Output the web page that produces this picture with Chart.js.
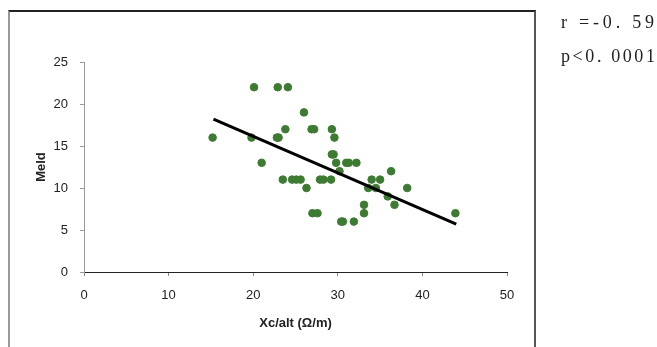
<!DOCTYPE html>
<html>
<head>
<meta charset="utf-8">
<script src="https://cdn.jsdelivr.net/npm/chart.js@4/dist/chart.umd.min.js"></script>
<style>
  html, body { margin: 0; padding: 0; background: #fff; }
  #wrap { position: relative; width: 657px; height: 347px; overflow: hidden; }
  #frame { position: absolute; left: 8px; top: 10px; width: 528px; height: 400px; box-sizing: border-box;
           border-left: 2px solid #999; border-top: 2px solid #222; border-right: 2px solid #555; }
  canvas { position: absolute; left: 0; top: 0; }
  .stat { position: absolute; left: 561px; font-family: "Liberation Serif", "DejaVu Serif", serif;
          font-size: 18px; line-height: 18px; color: #222; white-space: pre; }
</style>
</head>
<body>
<div id="wrap">
  <div id="frame"></div>
  <canvas id="scatterChart" width="657" height="347"></canvas>
  <div class="stat" style="top: 13px; letter-spacing: 3.8px;">r =-0. 59</div>
  <div class="stat" style="top: 47px; letter-spacing: 2.6px;">p&lt;0. 0001</div>
</div>
<script>
// Scatter of Meld vs Xc/alt with a fitted trend line

// ── Data ──────────────────────────────────────────────────
const xcAlt = [15.2, 20.1, 22.9, 24.1, 26.0, 23.8, 26.9, 27.2, 29.3, 19.8,
               22.8, 23.0, 29.6, 29.3, 29.5, 21.0, 29.8, 31.0, 31.3, 32.2,
               30.2, 36.3, 23.5, 24.6, 25.1, 25.6, 27.9, 28.3, 29.2, 34.0,
               35.0, 26.3, 33.6, 34.5, 38.2, 35.9, 33.1, 36.7, 27.0, 27.6,
               33.1, 43.9, 30.4, 30.6, 31.9];
const meld  = [16, 22, 22, 22, 19, 17, 17, 17, 17, 16,
               16, 16, 16, 14, 14, 13, 13, 13, 13, 13,
               12, 12, 11, 11, 11, 11, 11, 11, 11, 11,
               11, 10, 10, 10, 10, 9, 8, 8, 7, 7,
               7, 7, 6, 6, 6];

const trendX = [15.3, 44.0];
const trendY = [18.2, 5.7];

const xTicks = [0, 10, 20, 30, 40, 50];
const yTicks = [0, 5, 10, 15, 20, 25];

const points = xcAlt.map((x, i) => ({ x: x, y: meld[i] }));
const trend = trendX.map((x, i) => ({ x: x, y: trendY[i] }));

const tickFont = { family: "Liberation Sans, Arial, sans-serif", size: 13 };
const titleFont = { family: "Liberation Sans, Arial, sans-serif", size: 13, weight: "bold" };

new Chart(document.getElementById("scatterChart"), {
  type: "scatter",
  data: {
    datasets: [
      {
        label: "Meld",
        data: points,
        backgroundColor: "#3e7b32",
        borderColor: "#3e7b32",
        pointRadius: 3.8,
        pointHoverRadius: 3.8,
        order: 2,
      },
      {
        label: "Trend",
        type: "line",
        data: trend,
        borderColor: "#000",
        borderWidth: 3,
        pointRadius: 0,
        fill: false,
        order: 1,
      },
    ],
  },
  options: {
    responsive: false,
    animation: false,
    layout: { padding: { left: 30, top: 62, right: 150, bottom: 12 } },
    plugins: { legend: { display: false }, tooltip: { enabled: false } },
    scales: {
      x: {
        type: "linear",
        min: 0,
        max: 50,
        afterFit: (s) => { s.height = 63; },
        afterBuildTicks: (s) => { s.ticks = xTicks.map((v) => ({ value: v })); },
        border: { color: "#222", width: 1 },
        grid: { drawOnChartArea: false, drawTicks: true, tickLength: 4, color: "#888", tickColor: "#888" },
        ticks: { color: "#222", font: tickFont, padding: 12, maxRotation: 0 },
        title: { display: true, text: "Xc/alt (Ω/m)", color: "#222", font: titleFont, padding: 4 },
      },
      y: {
        type: "linear",
        min: 0,
        max: 25,
        afterFit: (s) => { s.width = 54; },
        afterBuildTicks: (s) => { s.ticks = yTicks.map((v) => ({ value: v })); },
        border: { color: "#999", width: 1 },
        grid: { drawOnChartArea: false, drawTicks: true, tickLength: 4, color: "#999", tickColor: "#999" },
        ticks: { color: "#222", font: tickFont, padding: 12 },
        title: { display: true, text: "Meld", color: "#222", font: titleFont, padding: 4 },
      },
    },
  },
});
</script>
</body>
</html>
